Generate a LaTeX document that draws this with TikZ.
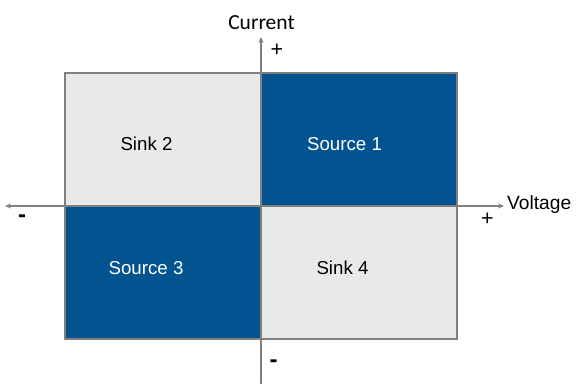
\documentclass[tikz,border=0pt]{standalone}
\usepackage{fontspec}
\setmainfont{Liberation Sans}
\newfontfamily\curfont{Carlito}
\usetikzlibrary{arrows.meta}
\definecolor{qblue}{HTML}{02538F}
\definecolor{qgray}{HTML}{E9E9E9}
\definecolor{axgray}{HTML}{808080}
\tikzset{
  quad/.style={draw=axgray, line width=1.8bp, inner sep=0pt, outer sep=0pt, minimum width=196bp, minimum height=133bp},
  lightquad/.style={quad, fill=qgray},
  darkquad/.style={quad, fill=qblue},
  qtext/.style={font=\fontsize{18.7bp}{22bp}\selectfont, inner sep=0pt},
  axis/.style={draw=axgray, line width=1.8bp, -{Stealth[length=6bp,width=5bp]}},
  sign/.style={font=\fontsize{21.5bp}{24bp}\selectfont, inner sep=0pt},
  minus/.style={font=\bfseries\fontsize{24bp}{26bp}\selectfont, inner sep=0pt}
}
\begin{document}
\begin{tikzpicture}[x=1bp,y=-1bp]
\useasboundingbox (0,0) rectangle (576,383);
% quadrants
\node[lightquad, anchor=south east] (q2) at (261,206) {};
\node[darkquad, anchor=south west] (q1) at (261,206) {};
\node[darkquad, anchor=north east] (q3) at (261,206) {};
\node[lightquad, anchor=north west] (q4) at (261,206) {};
% texts
\node[qtext, text=black] (t2) at (146.5,144) {Sink 2};
\node[qtext, text=white] (t1) at (344.5,144) {Source 1};
\node[qtext, text=white] (t3) at (146,268) {Source 3};
\node[qtext, text=black] (t4) at (342.5,268) {Sink 4};
% axes
\coordinate (o) at (261,206);
\coordinate (xl) at (5,206);
\coordinate (xr) at (504,206);
\coordinate (yt) at (261,37);
\coordinate (yb) at (261,390);
\draw[axis] (o) -- (xl);
\draw[axis] (o) -- (xr);
\draw[axis] (o) -- (yt);
\draw[axis] (o) -- (yb);
% labels
\node[font=\curfont\fontsize{21.5bp}{24bp}\selectfont, inner sep=0pt] (cur) at (261.5,23) {Current};
\node[font=\fontsize{19.2bp}{22bp}\selectfont, inner sep=0pt, anchor=west] (volt) at (507,205) {Voltage};
\node[sign] (pt) at (277,50) {+};
\node[sign] (pr) at (487.5,219.5) {+};
\node[minus] (ml) at (22,218.5) {-};
\node[minus] (mb) at (273.5,364) {-};
\end{tikzpicture}
\end{document}
